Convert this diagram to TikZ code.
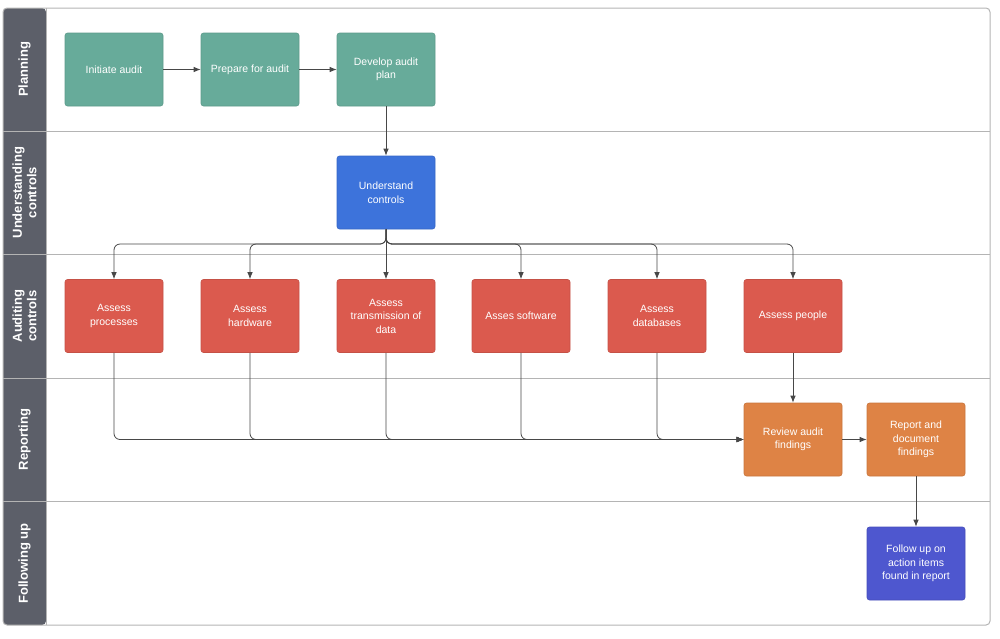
\documentclass[tikz,border=0pt]{standalone}
\usepackage{fontspec}
\setmainfont{Liberation Sans}
\usetikzlibrary{arrows.meta}

\definecolor{lanegray}{HTML}{5C5F69}
\definecolor{framegray}{HTML}{B4B4B4}
\definecolor{arrowgray}{HTML}{474747}
\definecolor{plangreen}{HTML}{67AB9A}
\definecolor{ctrlblue}{HTML}{3D73DB}
\definecolor{auditred}{HTML}{DB5A4E}
\definecolor{reportorange}{HTML}{DE8345}
\definecolor{followblue}{HTML}{4E57CF}

\tikzset{
	box/.style={rounded corners=2.5pt, minimum width=98pt, minimum height=73pt,
		align=center, text=white, inner sep=0pt, line width=0.6pt,
		font=\fontsize{10.5}{13.5}\selectfont},
	lanelabel/.style={text=white, rotate=90, align=center,
		font=\bfseries\fontsize{13}{14.5}\selectfont},
	arr/.style={draw=arrowgray, line width=0.8pt, -{Latex[length=7pt,width=5.5pt]}},
	flow/.style={arr, rounded corners=6pt}
}

\begin{document}
\begin{tikzpicture}[x=1pt,y=-1pt]
	\useasboundingbox (0,0) rectangle (1000,638);
	% lanes
	\fill [lanegray, rounded corners=4pt] (3,8) rectangle (46,625);
	\draw [framegray, line width=1pt, rounded corners=4pt] (3,8) rectangle (990,625);
	\draw [framegray, line width=1pt] (46,8) -- (46,625);
	\draw [framegray, line width=1pt] (3,131) -- (990,131);
	\draw [framegray, line width=1pt] (3,254) -- (990,254);
	\draw [framegray, line width=1pt] (3,378) -- (990,378);
	\draw [framegray, line width=1pt] (3,501) -- (990,501);
	\node [lanelabel] (plan) at (24.5,69.5) {Planning};
	\node [lanelabel] (under) at (24.5,192.5) {Understanding\\controls};
	\node [lanelabel] (audit) at (24.5,316) {Auditing\\controls};
	\node [lanelabel] (report) at (24.5,439.5) {Reporting};
	\node [lanelabel] (follow) at (24.5,563.5) {Following up};

	% planning
	\node [box, fill=plangreen, draw=plangreen!90!black] (ia) at (114,69.5) {Initiate audit};
	\node [box, fill=plangreen, draw=plangreen!90!black] (pa) at (250,69.5) {Prepare for audit};
	\node [box, fill=plangreen, draw=plangreen!90!black] (dp) at (386,69.5) {Develop audit\\plan};
	% understanding
	\node [box, fill=ctrlblue, draw=ctrlblue!90!black] (uc) at (386,192.5) {Understand\\controls};
	% auditing
	\node [box, fill=auditred, draw=auditred!90!black] (ap) at (114,316) {Assess\\processes};
	\node [box, fill=auditred, draw=auditred!90!black] (ah) at (250,316) {Assess\\hardware};
	\node [box, fill=auditred, draw=auditred!90!black] (at) at (386,316) {Assess\\transmission of\\data};
	\node [box, fill=auditred, draw=auditred!90!black] (as) at (521,316) {Asses software};
	\node [box, fill=auditred, draw=auditred!90!black] (ad) at (657,316) {Assess\\databases};
	\node [box, fill=auditred, draw=auditred!90!black] (apl) at (793,316) {Assess people};
	% reporting
	\node [box, fill=reportorange, draw=reportorange!90!black] (rv) at (793,439.5) {Review audit\\findings};
	\node [box, fill=reportorange, draw=reportorange!90!black] (rd) at (916,439.5) {Report and\\document\\findings};
	% following up
	\node [box, fill=followblue, draw=followblue!90!black] (fu) at (916,563.5) {Follow up on\\action items\\found in report};

	\coordinate (bus) at (386,244);

	% planning flow
	\draw [arr] (ia) -- (pa);
	\draw [arr] (pa) -- (dp);
	\draw [arr] (dp) -- (uc);
	% uc
	\draw [flow] (uc.south) -- (bus) -| (ap.north);
	\draw [flow] (uc.south) -- (bus) -| (ah.north);
	\draw [arr] (uc.south) -- (at.north);
	\draw [flow] (uc.south) -- (bus) -| (as.north);
	\draw [flow] (uc.south) -- (bus) -| (ad.north);
	\draw [flow] (uc.south) -- (bus) -| (apl.north);
	% findings
	\draw [flow] (ap.south) |- (rv.west);
	\draw [flow] (ah.south) |- (rv.west);
	\draw [flow] (at.south) |- (rv.west);
	\draw [flow] (as.south) |- (rv.west);
	\draw [flow] (ad.south) |- (rv.west);
	\draw [arr] (apl) -- (rv);
	\draw [arr] (rv) -- (rd);
	\draw [arr] (rd) -- (fu);
\end{tikzpicture}
\end{document}
